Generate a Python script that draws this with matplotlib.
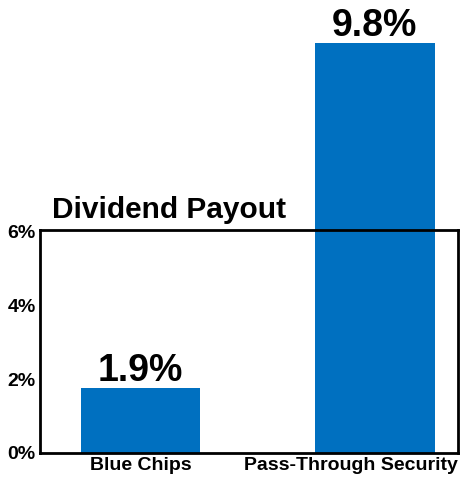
import matplotlib.pyplot as plt
from matplotlib.transforms import ScaledTranslation

categories = ['Blue Chips', 'Pass-Through Security']
payout_labels = ['1.9%', '9.8%']
# bar heights as drawn in the picture (in % units of the y axis)
bar_heights = [1.76, 11.12]
y_ticks = [0, 2, 4, 6]
y_tick_labels = ['0%', '2%', '4%', '6%']

plt.rcParams['font.family'] = ['Liberation Sans', 'DejaVu Sans']

fig = plt.figure(figsize=(4.70, 5.01), dpi=100)
ax = fig.add_axes([0.085, 0.096, 0.889, 0.445])

x = list(range(len(categories)))
bars = ax.bar(x, bar_heights, width=0.51, color='#0070c0', clip_on=False, zorder=3)

for bar, lab in zip(bars, payout_labels):
    ax.text(bar.get_x() + bar.get_width() / 2, bar.get_height() + 0.18, lab,
            ha='center', va='baseline', fontsize=27, fontweight='bold', clip_on=False)

ax.set_xlim(-0.43, 1.354)
ax.set_ylim(0, 6.05)
ax.set_yticks(y_ticks)
ax.set_yticklabels(y_tick_labels, fontsize=14, fontweight='bold')
ax.set_xticks(x)
ax.set_xticklabels(categories, fontsize=14, fontweight='bold')
ax.tick_params(length=0)
ax.tick_params(axis='y', pad=3)
ax.tick_params(axis='x', pad=3)

# the long label is pulled left so it stays inside the figure
lab2 = ax.get_xticklabels()[1]
lab2.set_transform(lab2.get_transform() + ScaledTranslation(-0.235, 0, fig.dpi_scale_trans))

for s in ax.spines.values():
    s.set_linewidth(2)
    s.set_zorder(4)

ax.text(0.03, 1.054, 'Dividend Payout', transform=ax.transAxes,
        fontsize=21.5, fontweight='bold', ha='left', va='baseline')

fig.savefig('out.png', dpi=100)
